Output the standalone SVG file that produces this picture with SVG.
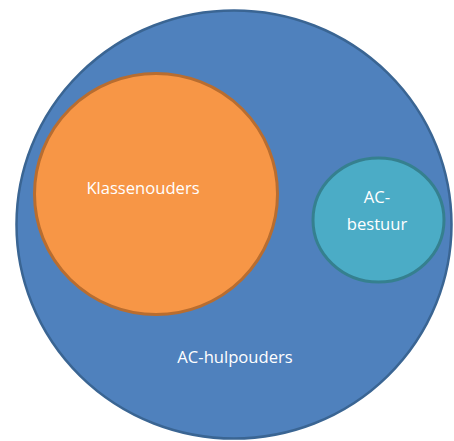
<svg xmlns="http://www.w3.org/2000/svg" width="454" height="441" viewBox="0 0 454 441">
<style>
.lbl{font-family:"Open Sans","Liberation Sans",sans-serif;font-size:16.6px;fill:#ffffff;text-anchor:middle}
</style>
<rect width="454" height="441" fill="#ffffff"/>
<g id="ac-hulpouders">
<ellipse cx="234" cy="224.5" rx="217.5" ry="214" fill="#4f81bd" stroke="#3a6593" stroke-width="2.5"/>
<text class="lbl" x="235" y="363">AC-hulpouders</text>
</g>
<g id="klassenouders">
<ellipse cx="156" cy="194" rx="121.5" ry="120.5" fill="#f79646" stroke="#b86d30" stroke-width="3"/>
<text class="lbl" x="143" y="194">Klassenouders</text>
</g>
<g id="ac-bestuur">
<ellipse cx="378.5" cy="220" rx="65.5" ry="62" fill="#4bacc6" stroke="#35808f" stroke-width="3"/>
<text class="lbl" x="377" y="203">AC-</text>
<text class="lbl" x="377" y="230">bestuur</text>
</g>
<g id="connectors"/>
</svg>
